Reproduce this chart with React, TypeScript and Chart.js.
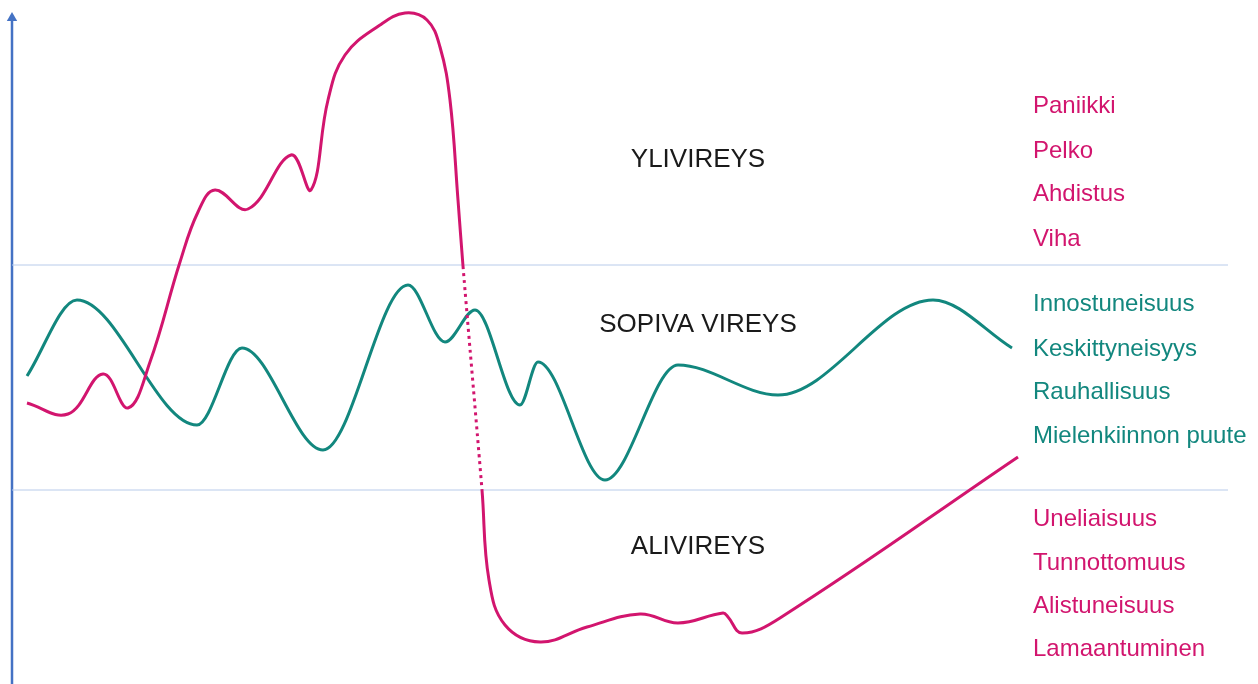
import React, { useEffect, useRef } from "react";
import { Chart, registerables } from "chart.js";

Chart.register(...registerables);

// Horizontal extent (time) and vertical extent (arousal level)
const X_MAX = 1258;
const Y_MAX = 684;

// Pink curve: arousal path (over-arousal -> collapse into under-arousal)
const pinkX = [27, 68, 103, 128, 150, 180, 198, 215, 248, 291, 311, 328, 345, 380, 405, 427, 440, 450, 458, 463, 482, 489, 505, 540, 587, 640, 678, 723, 728, 742, 780, 1018];
const pinkY = [281, 270, 310, 276, 322, 422, 472, 494, 475, 529, 494, 584, 629, 659, 671, 664, 637, 584, 484, 418, 194, 104, 59, 42, 57, 70, 61, 71, 67, 51, 66, 227];
// index of the point where the dotted part of the pink curve starts
const PINK_DOTTED_START = 19;

// Teal curve: arousal within the optimal zone
const tealX = [27, 77, 197, 242, 323, 408, 445, 475, 520, 538, 605, 678, 778, 933, 1012];
const tealY = [308, 384, 259, 336, 234, 399, 342, 374, 279, 322, 204, 319, 289, 384, 336];

// Zone borders
const upperBorder = 419;
const lowerBorder = 194;
const borderStartX = 12;
const borderEndX = 1228;

// Vertical axis
const axisX = 12;
const axisTop = 672;

// Zone titles
const zoneLabels = ["YLIVIREYS", "SOPIVA VIREYS", "ALIVIREYS"];
const zoneLabelY = [524, 359, 137];
const zoneLabelX = 698;

// Right-hand lists
const overLabels = ["Paniikki", "Pelko", "Ahdistus", "Viha"];
const overLabelY = [578, 533, 490, 445];
const optimalLabels = ["Innostuneisuus", "Keskittyneisyys", "Rauhallisuus", "Mielenkiinnon puute"];
const optimalLabelY = [380, 335, 292, 248];
const underLabels = ["Uneliaisuus", "Tunnottomuus", "Alistuneisuus", "Lamaantuminen"];
const underLabelY = [165, 121, 78, 35];
const listX = 1033;

const PINK = "#d2156e";
const TEAL = "#12877e";
const BORDER = "#b8cbea";
const AXIS = "#4472c4";

const pts = (xs: number[], ys: number[]) => xs.map((x, i) => ({ x, y: ys[i] }));

const labelPlugin = {
  id: "labels",
  afterDatasetsDraw(chart: any) {
    const { ctx, scales } = chart;
    const sx = scales.x;
    const sy = scales.y;
    ctx.save();
    ctx.textBaseline = "middle";
    ctx.font = '26px "Liberation Sans", Arial, sans-serif';
    ctx.fillStyle = "#1a1a1a";
    ctx.textAlign = "center";
    zoneLabels.forEach((t, i) => {
      ctx.fillText(t, sx.getPixelForValue(zoneLabelX), sy.getPixelForValue(zoneLabelY[i]));
    });
    ctx.textAlign = "left";
    ctx.font = '24px "Liberation Sans", Arial, sans-serif';
    const drawList = (labels: string[], ys: number[], color: string) => {
      ctx.fillStyle = color;
      labels.forEach((t, i) => {
        ctx.fillText(t, sx.getPixelForValue(listX), sy.getPixelForValue(ys[i]));
      });
    };
    drawList(overLabels, overLabelY, PINK);
    drawList(optimalLabels, optimalLabelY, TEAL);
    drawList(underLabels, underLabelY, PINK);
    ctx.restore();
  },
};

export default function App() {
  const ref = useRef<HTMLCanvasElement | null>(null);

  useEffect(() => {
    document.body.style.margin = "0";
    const canvas = ref.current;
    if (!canvas) return;
    const chart = new Chart(canvas, {
      type: "line",
      data: {
        datasets: [
          {
            label: "pink",
            data: pts(pinkX, pinkY),
            borderColor: PINK,
            borderWidth: 3,
            pointRadius: 0,
            tension: 0.4,
            fill: false,
            order: 1,
            segment: {
              borderDash: (c: any) => (c.p0DataIndex === PINK_DOTTED_START ? [3, 4] : undefined),
            },
          } as any,
          {
            label: "teal",
            data: pts(tealX, tealY),
            borderColor: TEAL,
            borderWidth: 3,
            pointRadius: 0,
            cubicInterpolationMode: "monotone",
            fill: false,
            order: 2,
          },
          {
            label: "upper",
            data: [
              { x: borderStartX, y: upperBorder },
              { x: borderEndX, y: upperBorder },
            ],
            borderColor: BORDER,
            borderWidth: 1,
            pointRadius: 0,
            order: 3,
          },
          {
            label: "lower",
            data: [
              { x: borderStartX, y: lowerBorder },
              { x: borderEndX, y: lowerBorder },
            ],
            borderColor: BORDER,
            borderWidth: 1,
            pointRadius: 0,
            order: 3,
          },
          {
            label: "axis",
            data: [
              { x: axisX, y: 0 },
              { x: axisX, y: axisTop - 6 },
            ],
            borderColor: AXIS,
            backgroundColor: AXIS,
            borderWidth: 2.5,
            pointStyle: "triangle",
            pointRadius: [0, 6],
            pointBorderWidth: 0,
            order: 4,
          } as any,
        ],
      },
      options: {
        animation: false,
        responsive: true,
        maintainAspectRatio: false,
        layout: { padding: 0, autoPadding: false },
        plugins: {
          legend: { display: false },
          tooltip: { enabled: false },
        },
        events: [],
        scales: {
          x: { type: "linear", min: 0, max: X_MAX, display: false },
          y: { type: "linear", min: 0, max: Y_MAX, display: false },
        },
      },
      plugins: [labelPlugin],
    });
    return () => chart.destroy();
  }, []);

  return (
    <div style={{ position: "fixed", left: 0, top: 0, width: 1258, height: 684, background: "#fff" }}>
      <canvas ref={ref} />
    </div>
  );
}
